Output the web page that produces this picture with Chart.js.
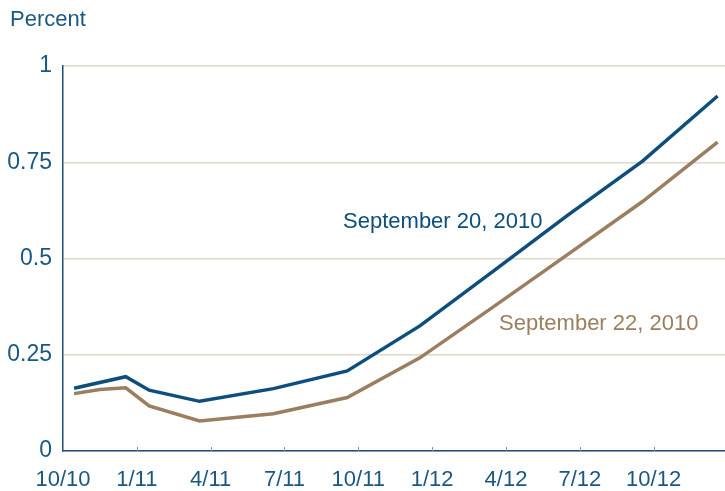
<!DOCTYPE html>
<html>
<head>
<meta charset="utf-8">
<script src="https://cdn.jsdelivr.net/npm/chart.js@4.4.1/dist/chart.umd.min.js"></script>
<style>
html,body{margin:0;padding:0;background:#fff;}
#wrap{width:725px;height:491px;position:relative;}
</style>
</head>
<body>
<div id="wrap"><canvas id="c" width="725" height="491"></canvas></div>
<script>
// x values are months counted from October 2010
const tickMonths = [0, 3, 6, 9, 12, 15, 18, 21, 24];
const tickLabels = ["10/10", "1/11", "4/11", "7/11", "10/11", "1/12", "4/12", "7/12", "10/12"];
const yTickValues = [0, 0.25, 0.5, 0.75, 1];
const yTickLabels = ["0", "0.25", "0.5", "0.75", "1"];
const sep20Months = [0.45, 2.55, 3.5, 5.55, 8.55, 11.55, 14.5, 17.5, 20.5, 23.55, 26.6];
const sep20Values = [0.163, 0.193, 0.158, 0.129, 0.162, 0.208, 0.325, 0.468, 0.612, 0.753, 0.922];
const sep22Months = [0.45, 1.5, 2.55, 3.5, 5.55, 8.55, 11.55, 14.5, 17.5, 20.5, 23.55, 26.6];
const sep22Values = [0.149, 0.160, 0.164, 0.117, 0.078, 0.097, 0.139, 0.242, 0.375, 0.51, 0.648, 0.802];
const seriesNames = ["September 20, 2010", "September 22, 2010"];
const yUnit = "Percent";

const BLUE = "#0c4e7c";
const BROWN = "#9b7e5f";
const TEXT = "#1b5783";
const FONT = "'Liberation Sans', Arial, sans-serif";

const toPts = (xs, ys) => xs.map((x, i) => ({x: x, y: ys[i]}));

const extras = {
  id: 'extras',
  afterDraw(chart) {
    const ctx = chart.ctx;
    const xs = chart.scales.x, ys = chart.scales.y;
    const area = chart.chartArea;
    ctx.save();
    // inner tick marks on x axis
    ctx.strokeStyle = "#7d98b1";
    ctx.lineWidth = 1;
    tickMonths.forEach(m => {
      if (m === 0) return;
      const px = Math.round(xs.getPixelForValue(m)) + 0.5;
      ctx.beginPath();
      ctx.moveTo(px, area.bottom);
      ctx.lineTo(px, area.bottom - 4);
      ctx.stroke();
    });
    // unit label
    ctx.font = "22px " + FONT;
    ctx.fillStyle = TEXT;
    ctx.textAlign = "left";
    ctx.textBaseline = "alphabetic";
    ctx.fillText(yUnit, 10, 26);
    // series labels
    ctx.fillStyle = BLUE;
    ctx.fillText(seriesNames[0], xs.getPixelForValue(11.38), ys.getPixelForValue(0.58));
    ctx.fillStyle = BROWN;
    ctx.fillText(seriesNames[1], xs.getPixelForValue(17.72), ys.getPixelForValue(0.315));
    ctx.restore();
  }
};

new Chart(document.getElementById('c'), {
  type: 'line',
  data: {
    datasets: [
      {label: seriesNames[0], data: toPts(sep20Months, sep20Values), borderColor: BLUE, borderWidth: 3.5, pointRadius: 0, tension: 0, fill: false},
      {label: seriesNames[1], data: toPts(sep22Months, sep22Values), borderColor: BROWN, borderWidth: 3.5, pointRadius: 0, tension: 0, fill: false}
    ]
  },
  options: {
    responsive: false,
    animation: false,
    layout: {padding: {top: 66, right: 0, left: 0, bottom: 0}},
    plugins: {legend: {display: false}, tooltip: {enabled: false}, title: {display: false}},
    scales: {
      x: {
        type: 'linear',
        min: 0,
        max: 26.9,
        afterBuildTicks: s => { s.ticks = tickMonths.map(v => ({value: v})); },
        afterFit: s => { s.height = 40; },
        grid: {display: false, drawTicks: false},
        border: {display: true, color: "#1d4f78", width: 1.5},
        ticks: {
          callback: v => tickLabels[tickMonths.indexOf(v)],
          color: TEXT, font: {family: FONT, size: 22}, padding: 16,
          maxRotation: 0, autoSkip: false
        }
      },
      y: {
        min: 0,
        max: 1,
        afterBuildTicks: s => { s.ticks = yTickValues.map(v => ({value: v})); },
        afterFit: s => { s.width = 63; },
        ticks: {
          callback: v => yTickLabels[yTickValues.indexOf(v)],
          color: TEXT, font: {family: FONT, size: 23}, padding: 11
        },
        grid: {color: "#ddd8cc", lineWidth: 1.5, drawTicks: false},
        border: {display: true, color: "#1d4f78", width: 1.5}
      }
    }
  },
  plugins: [extras]
});
</script>
</body>
</html>
